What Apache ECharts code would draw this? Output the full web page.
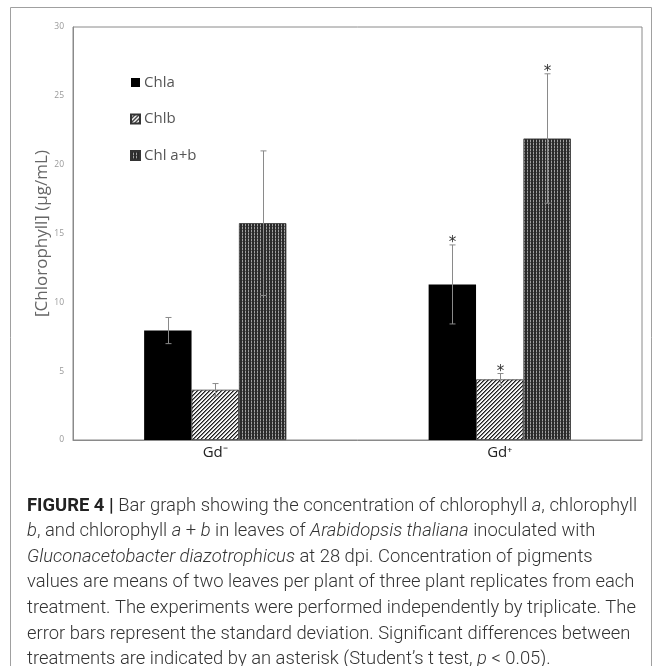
<!DOCTYPE html>
<html><head><meta charset="utf-8">
<script src="https://cdn.jsdelivr.net/npm/echarts@6/dist/echarts.min.js"></script>
<style>html,body{margin:0;padding:0;background:#fff}#c{width:663px;height:666px}</style>
</head><body><div id="c"></div>
<script>
const categories = ['Gd\u207B', 'Gd\u207A'];
const seriesNames = ['Chla', 'Chlb', 'Chl a+b'];
const chla = [7.95, 11.3];
const chlaSd = [0.95, 2.87];
const chlb = [3.65, 4.4];
const chlbSd = [0.45, 0.43];
const chlab = [15.75, 21.9];
const chlabSd = [5.25, 4.7];
const significant = [[false, true], [false, true], [false, true]];
const yTicks = [0, 5, 10, 15, 20, 25, 30];

function hatchPattern() {
  const c = document.createElement('canvas'); c.width = 4; c.height = 4;
  const g = c.getContext('2d');
  g.fillStyle = '#f4f4f4'; g.fillRect(0, 0, 4, 4);
  g.fillStyle = '#1e1e1e';
  for (let i = 0; i < 4; i++) g.fillRect(i, 3 - i, 1, 1);
  g.fillStyle = '#777';
  for (let i = 0; i < 4; i++) g.fillRect((i + 1) % 4, 3 - i, 1, 1);
  return c;
}
function stripePattern() {
  const c = document.createElement('canvas'); c.width = 3; c.height = 3;
  const g = c.getContext('2d');
  g.fillStyle = '#a0a0a0'; g.fillRect(0, 0, 3, 3);
  g.fillStyle = '#2a2a2a'; g.fillRect(0, 0, 2, 3);
  g.fillStyle = '#555'; g.fillRect(2, 1, 1, 1);
  return c;
}

const means = [chla, chlb, chlab];
const sds = [chlaSd, chlbSd, chlabSd];
const errData = [];
for (let s = 0; s < 3; s++) for (let k = 0; k < categories.length; k++)
  errData.push([k, s, means[s][k], sds[s][k], significant[s][k] ? 1 : 0]);

const colors = ['#000000', {image: hatchPattern(), repeat: 'repeat'}, {image: stripePattern(), repeat: 'repeat'}];

const captionLines = [
  [['b', 'FIGURE 4 | '], ['n', 'Bar graph showing the concentration of chlorophyll '], ['i', 'a'], ['n', ', chlorophyll']],
  [['i', 'b'], ['n', ', and chlorophyll '], ['i', 'a'], ['n', ' + '], ['i', 'b'], ['n', ' in leaves of '], ['i', 'Arabidopsis thaliana'], ['n', ' inoculated with']],
  [['i', 'Gluconacetobacter diazotrophicus'], ['n', ' at 28 dpi. Concentration of pigments']],
  [['n', 'values are means of two leaves per plant of three plant replicates from each']],
  [['n', 'treatment. The experiments were performed independently by triplicate. The']],
  [['n', 'error bars represent the standard deviation. Significant differences between']],
  [['n', 'treatments are indicated by an asterisk (Student\u2019s t test, '], ['i', 'p'], ['n', ' < 0.05).']]
];
const capFont = 'Roboto';
const capSize = 18.4;
const graphics = [{
  type: 'rect', shape: {x: 10.5, y: 7.5, width: 641, height: 700},
  style: {fill: 'none', stroke: '#a0a0a0', lineWidth: 1}, silent: true
}];
captionLines.forEach((line, i) => {
  graphics.push({
    type: 'text', left: 27, top: 497 + i * 25.6,
    style: {
      text: line.map(p => '{' + p[0] + '|' + p[1] + '}').join(''),
      rich: {
        n: {fontFamily: capFont, fontSize: capSize, fontWeight: 300, fill: '#333'},
        i: {fontFamily: capFont, fontSize: capSize, fontWeight: 300, fontStyle: 'italic', fill: '#333'},
        b: {fontFamily: capFont, fontSize: capSize, fontWeight: 'bold', fill: '#222'}
      }
    }
  });
});

const chart = echarts.init(document.getElementById('c'), null, {renderer: 'canvas'});
chart.setOption({
  animation: false,
  backgroundColor: '#fff',
  grid: {left: 73, right: 21, top: 27, bottom: 226, show: true, borderColor: '#8a8a8a', borderWidth: 1},
  legend: {
    orient: 'vertical', left: 125, top: 70, itemWidth: 9, itemHeight: 9, itemGap: 21.5,
    data: seriesNames, icon: 'rect',
    textStyle: {fontFamily: 'Open Sans', fontSize: 15, color: '#555', padding: [0, 0, 0, -1]}
  },
  xAxis: {
    type: 'category', data: categories,
    axisLine: {lineStyle: {color: '#8a8a8a'}}, axisTick: {show: false},
    axisLabel: {fontFamily: 'Open Sans', fontSize: 15, color: '#222', margin: 5}
  },
  yAxis: {
    type: 'value', min: 0, max: 30, interval: 5,
    name: '[Chlorophyll] (\u00B5g/mL)', nameLocation: 'middle', nameGap: 22, nameMoveOverlap: false,
    nameTextStyle: {fontFamily: 'Open Sans', fontSize: 17, color: '#666'},
    axisLine: {show: true, lineStyle: {color: '#8a8a8a'}},
    axisTick: {show: false}, splitLine: {show: false},
    axisLabel: {fontFamily: 'Open Sans', fontSize: 8.5, color: '#999', margin: 9,
      formatter: v => yTicks.includes(v) ? String(v) : ''}
  },
  series: [
    ...seriesNames.map((n, s) => ({
      name: n, type: 'bar', data: means[s], barGap: '0%', barCategoryGap: '50%',
      itemStyle: {color: colors[s], borderColor: '#333', borderWidth: s === 0 ? 0 : 0.8}
    })),
    {
      type: 'custom', data: errData, encode: {x: 0, y: 2}, z: 10, silent: true,
      renderItem: (params, api) => {
        const cat = api.value(0), s = api.value(1), m = api.value(2), sd = api.value(3), sig = api.value(4);
        const bandW = api.size([1, 0])[0];
        const barW = bandW * 0.5 / 3;
        const cx = Math.round(api.coord([cat, 0])[0] + (s - 1) * barW) + 0.5;
        const yT = api.coord([cat, m + sd])[1];
        const yB = api.coord([cat, m - sd])[1];
        const st = {stroke: '#8a8a8a', lineWidth: 1};
        const ch = [
          {type: 'line', shape: {x1: cx, y1: yT, x2: cx, y2: yB}, style: st},
          {type: 'line', shape: {x1: cx - 3, y1: yT, x2: cx + 3, y2: yT}, style: st},
          {type: 'line', shape: {x1: cx - 3, y1: yB, x2: cx + 3, y2: yB}, style: st}
        ];
        if (sig) ch.push({type: 'text', style: {text: '*', x: cx, y: yT + 6, align: 'center', verticalAlign: 'bottom',
          fontFamily: 'DejaVu Sans', fontSize: 15, fill: '#333'}});
        return {type: 'group', children: ch};
      }
    }
  ],
  graphic: graphics
});
</script></body></html>
